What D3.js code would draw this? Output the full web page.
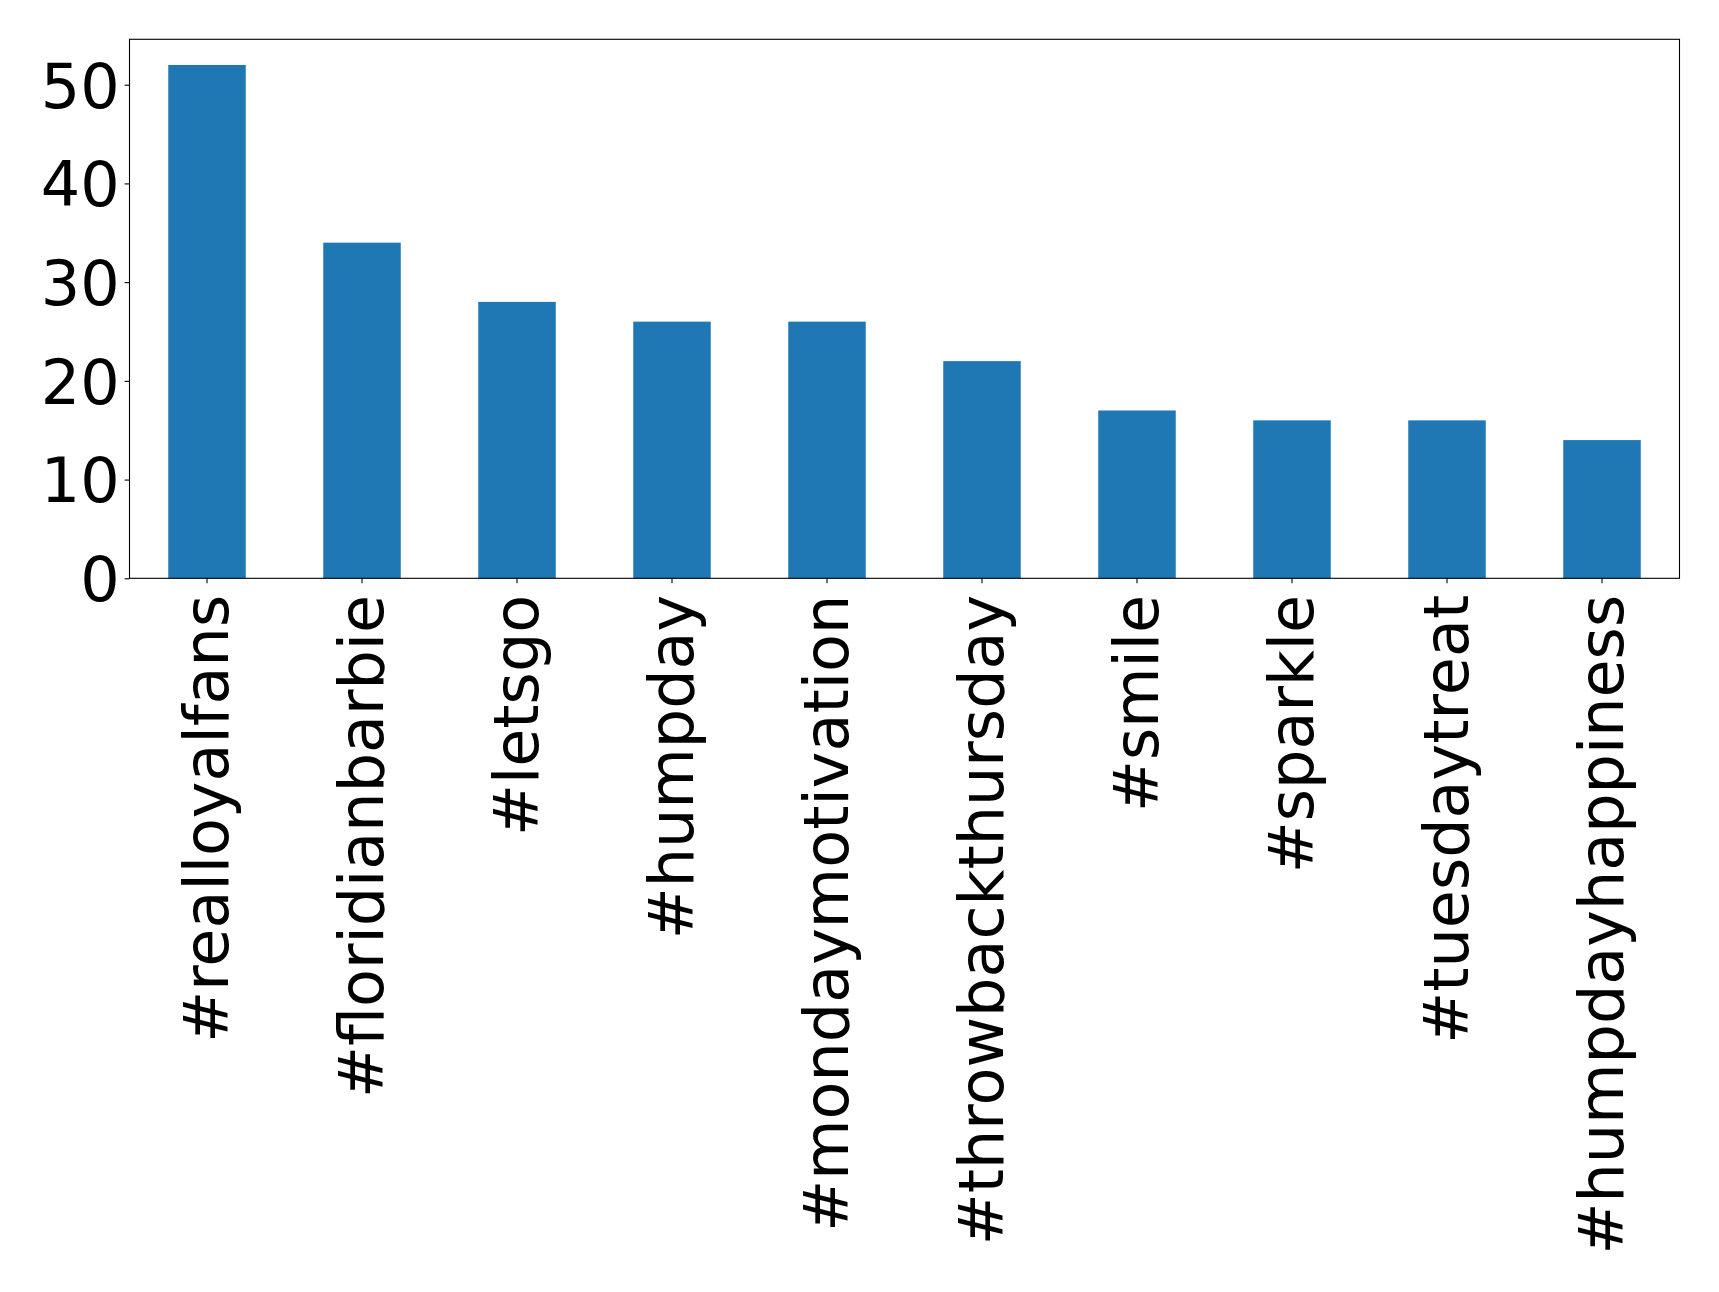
<!DOCTYPE html>
<html>
<head>
<meta charset="utf-8">
<script src="https://cdn.jsdelivr.net/npm/d3@7/dist/d3.min.js"></script>
<style>
  html, body { margin: 0; padding: 0; background: #fff; }
  svg { display: block; }
</style>
</head>
<body>
<svg id="chart" width="1719" height="1292"></svg>
<script>
const categories = ["#realloyalfans", "#floridianbarbie", "#letsgo", "#humpday", "#mondaymotivation",
                    "#throwbackthursday", "#smile", "#sparkle", "#tuesdaytreat", "#humpdayhappiness"];
const values = [52, 34, 28, 26, 26, 22, 17, 16, 16, 14];
const yTicks = [0, 10, 20, 30, 40, 50];

const W = 1719, H = 1292;
const m = { left: 129.5, right: 1679.5, top: 39.3, bottom: 578.3 };
const svg = d3.select("#chart");

const x = d3.scaleBand().domain(categories).range([m.left, m.right]).paddingInner(0.5).paddingOuter(0.25);
const y = d3.scaleLinear().domain([0, d3.max(values) * 1.05]).range([m.bottom, m.top]);

svg.append("g").selectAll("rect").data(values).join("rect")
  .attr("x", (d, i) => x(categories[i]))
  .attr("width", x.bandwidth())
  .attr("y", d => y(d))
  .attr("height", d => y(0) - y(d))
  .attr("fill", "#1f77b4");

const fontFam = "'DejaVu Sans', sans-serif";

const yAxis = svg.append("g").attr("transform", `translate(${m.left},0)`)
  .call(d3.axisLeft(y).tickValues(yTicks).tickSize(4.9).tickPadding(4.9).tickFormat(d3.format("d")));
yAxis.select(".domain").remove();
yAxis.selectAll("line").attr("stroke", "#000").attr("stroke-width", 1.1);
yAxis.selectAll("text").attr("font-family", fontFam).attr("font-size", 62).attr("fill", "#000").attr("dy", "0.36em");

const xAxis = svg.append("g").attr("transform", `translate(0,${m.bottom})`)
  .call(d3.axisBottom(x).tickSize(4.9).tickPadding(0));
xAxis.select(".domain").remove();
xAxis.selectAll("line").attr("stroke", "#000").attr("stroke-width", 1.1);
xAxis.selectAll("text")
  .attr("font-family", fontFam).attr("font-size", 62).attr("fill", "#000")
  .attr("text-anchor", "end")
  .attr("transform", "translate(0,16.5) rotate(-90)")
  .attr("x", 0).attr("y", 0).attr("dy", "0.34em");

svg.append("rect")
  .attr("x", m.left).attr("y", m.top)
  .attr("width", m.right - m.left).attr("height", m.bottom - m.top)
  .attr("fill", "none").attr("stroke", "#000").attr("stroke-width", 1.1);
</script>
</body>
</html>
